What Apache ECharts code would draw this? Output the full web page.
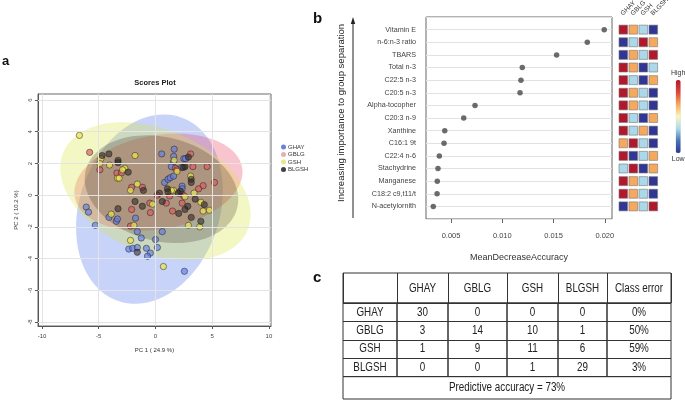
<!DOCTYPE html>
<html><head><meta charset="utf-8">
<script src="https://cdn.jsdelivr.net/npm/echarts@6/dist/echarts.min.js"></script>
<style>html,body{margin:0;padding:0;background:#fff}#c{width:685px;height:402px}</style>
</head><body><div id="c"></div>
<script>
// ---------------- DATA ----------------
const groups = ['GHAY', 'GBLG', 'GSH', 'BLGSH'];
const ghayPts = [[-6.1,-0.75],[-5.9,-1.07],[-5.3,-1.9],[-4.1,-1.4],[-3.45,-1.65],[-3.35,-1.5],[-1.76,-1.45],[-1.6,-2.3],[-1.25,-2.7],[-2.35,-3.4],[-2.0,-3.35],[-1.6,-3.3],[-0.8,-3.35],[-0.45,-3.65],[-0.7,-3.85],[0,-2.8],[0.17,-3.3],[0.6,-2.3],[2.55,-4.8],[0.55,2.6],[1.65,2.9],[1.6,2.45],[1.6,2.1],[2.5,2.3],[2.65,2.3],[1.4,1.8],[2.3,1.75],[0.8,0.8],[1.1,1.0],[1.3,1.1],[1.6,1.2],[2.35,0.57],[2.35,0.4]];
const gblgPts = [[-5.8,2.7],[-4.9,1.6],[-3.4,1.4],[-3.0,1.4],[-2.1,0.5],[-1.15,0.5],[-2.1,-0.9],[-0.5,-0.5],[-0.45,-1.1],[-2.2,-1.95],[3.1,2.6],[3.3,1.8],[4.55,1.8],[1.75,1.7],[1.9,1.6],[5.2,0.8],[4.2,0.6],[3.8,0.4],[1.25,-0.05],[0.15,0],[2.35,0.07],[2.5,-0.05],[0.95,-0.5],[2.35,-0.5],[1.5,-1.0]];
const gshPts = [[-6.7,3.77],[-4.8,2.3],[-4.9,2.0],[-4.05,1.9],[-1.8,2.5],[-2.7,1.7],[-2.9,1.6],[-3.35,1.07],[-3.2,1.07],[-1.6,0.7],[-2.2,0.3],[-0.26,-0.57],[-3.9,-1.2],[-1.9,-1.9],[-2.2,-2.85],[0.7,-4.5],[1.65,2.2],[1.9,1.5],[3.1,1.2],[3.4,0.13],[1.6,0.3],[1.4,0.3],[2.6,-0.1],[4.0,-0.45],[4.75,-0.95],[4.2,-1.0],[2.9,-1.9],[3.9,-2.0]];
const blgshPts = [[-4.7,2.5],[-4.1,2.6],[-3.3,2.2],[-3.3,2.05],[-2.4,1.45],[-1.06,0.3],[-1.8,-0.4],[-3.3,-0.85],[-1.15,-0.7],[-1.6,-3.6],[2.9,2.4],[2.6,1.8],[2.45,1.75],[3.15,1.0],[3.15,0.8],[2.2,0.25],[2.0,0.13],[1.05,0.4],[1.1,0.2],[0.35,0.13],[0.6,-0.4],[2.85,-0.7],[3.5,-0.25],[4.3,-0.6],[2.6,-0.9],[2.05,-1.15],[3.15,-1.4],[4.0,-1.65]];
// 95% confidence ellipses (data units): centre, conjugate semi-axis vectors
const ellipseCenters = [[-0.53,-0.88],[0.26,0.82],[0.0,0.25],[0.53,0.38]];
const ellipseAxisA  = [[2.73,5.80],[7.37,0.93],[8.11,-2.46],[6.67,-1.19]];
const ellipseAxisB  = [[5.86,-1.41],[0.72,-2.92],[2.13,3.59],[1.11,3.18]];
const scoreXTicks = [-10, -5, 0, 5, 10];
const scoreYTicks = [-8, -6, -4, -2, 0, 2, 4, 6];

const features = ['Vitamin E','n-6:n-3 ratio','TBARS','Total n-3','C22:5 n-3','C20:5 n-3','Alpha-tocopher','C20:3 n-9','Xanthine','C16:1 9t','C22:4 n-6','Stachydrine','Manganese','C18:2 c9,t11/t','N-acetylornith'];
const mdaValues = [0.01994,0.01829,0.0153,0.01195,0.01182,0.01173,0.00734,0.00624,0.00439,0.00432,0.00386,0.00373,0.00366,0.00364,0.00327];
const mdaTicks = [0.005, 0.010, 0.015, 0.020];
// relative level per group (1 = low ... 4 = high), columns GHAY, GBLG, GSH, BLGSH
const heatRanks = [[4,3,2,1],[1,2,4,3],[1,3,2,4],[4,3,1,2],[4,2,1,3],[4,3,2,1],[4,3,2,1],[4,2,1,3],[4,2,3,1],[3,4,2,1],[4,1,2,3],[2,4,1,3],[4,3,2,1],[4,3,2,1],[1,3,2,4]];

const tableHeader = ['', 'GHAY', 'GBLG', 'GSH', 'BLGSH', 'Class error'];
const tableRows = ['GHAY', 'GBLG', 'GSH', 'BLGSH'];
const confusion = [[30,0,0,0],[3,14,10,1],[1,9,11,6],[0,0,1,29]];
const classError = ['0%', '50%', '59%', '3%'];
const predictiveAccuracy = '73%';

// ---------------- STYLE / LAYOUT ----------------
const ellipseFills = ['rgba(70,110,235,0.30)','rgba(235,80,110,0.33)','rgba(215,230,60,0.30)','rgba(40,20,10,0.21)'];
const pointFills = ['rgba(100,125,228,0.82)','rgba(222,92,100,0.85)','rgba(236,228,80,0.90)','rgba(45,40,36,0.72)'];
const legendFills = ['#4a5fd6','#e39a9a','#e3e070','#111'];
const SANS = "'Liberation Sans',Arial,sans-serif";
const colEdges = [343, 397, 448, 507, 558, 607, 671];
const headerTop = 273, bodyTop = 303, rowH = 18.4, tableBottom = 399;
const tableFont = 12, tableScaleX = 0.82;

const chart = echarts.init(document.getElementById('c'), null, {renderer: 'canvas'});
const grids = [], xAxes = [], yAxes = [], series = [];

// ---- panel a : scores plot ----
grids.push({left: 38, top: 94, width: 233, height: 232, show: true, borderColor: '#6a6a6a', borderWidth: 1, backgroundColor: 'transparent'});
xAxes.push({gridIndex: 0, type: 'value', min: -10.35, max: 10.18,
  axisLine: {show: true, onZero: false, lineStyle: {color: '#555'}},
  axisTick: {show: true, customValues: scoreXTicks, length: 3, lineStyle: {color: '#555'}},
  axisLabel: {customValues: scoreXTicks, fontSize: 6, color: '#444', margin: 7, fontFamily: SANS},
  splitLine: {show: false},
  name: 'PC 1 ( 24.9 %)', nameLocation: 'middle', nameGap: 21, nameTextStyle: {fontSize: 6, color: '#333', fontFamily: SANS}});
yAxes.push({gridIndex: 0, type: 'value', min: -8.25, max: 6.38,
  axisLine: {show: true, onZero: false, lineStyle: {color: '#555'}},
  axisTick: {show: true, customValues: scoreYTicks, length: 3, lineStyle: {color: '#555'}},
  axisLabel: {customValues: scoreYTicks, fontSize: 6, color: '#444', margin: 5, rotate: 90, fontFamily: SANS},
  splitLine: {show: false},
  name: 'PC 2 ( 10.2 %)', nameLocation: 'middle', nameGap: 19, nameTextStyle: {fontSize: 6, color: '#333', fontFamily: SANS}});

series.push({type: 'scatter', name: 'gridlines', xAxisIndex: 0, yAxisIndex: 0, data: [], z: 0, silent: true,
  markLine: {silent: true, symbol: ['none','none'], animation: false, label: {show: false},
    lineStyle: {color: '#e4e4e4', width: 1, type: 'solid'},
    data: scoreXTicks.map(v => ({xAxis: v})).concat(scoreYTicks.map(v => ({yAxis: v})))}});

series.push({type: 'custom', name: 'ellipses', xAxisIndex: 0, yAxisIndex: 0, z: 1, silent: true,
  data: ellipseCenters.map(c => [c[0], c[1]]),
  renderItem: function (params, api) {
    const i = params.dataIndex;
    const c = ellipseCenters[i], A = ellipseAxisA[i], B = ellipseAxisB[i];
    const pts = [];
    for (let k = 0; k < 120; k++) {
      const t = k / 120 * 2 * Math.PI;
      pts.push(api.coord([c[0] + A[0]*Math.cos(t) + B[0]*Math.sin(t), c[1] + A[1]*Math.cos(t) + B[1]*Math.sin(t)]));
    }
    return {type: 'polygon', shape: {points: pts}, style: {fill: ellipseFills[i], stroke: null}};
  }});

[ghayPts, gblgPts, gshPts, blgshPts].forEach((pts, i) => {
  series.push({type: 'scatter', name: groups[i], xAxisIndex: 0, yAxisIndex: 0, z: 3, data: pts, symbolSize: 6.3,
    itemStyle: {color: pointFills[i], borderColor: '#1a1a1a', borderWidth: 0.6}, emphasis: {disabled: true}});
});

// ---- panel b : importance dot plot ----
grids.push({left: 426, top: 17, width: 186, height: 202, show: true, borderColor: '#666', borderWidth: 1, backgroundColor: 'transparent'});
xAxes.push({gridIndex: 1, type: 'value', min: 0.00256, max: 0.0207,
  axisLine: {show: false, onZero: false},
  axisTick: {show: true, customValues: mdaTicks, length: 4, lineStyle: {color: '#666'}},
  axisLabel: {customValues: mdaTicks, formatter: v => v.toFixed(3), fontSize: 7.5, color: '#444', margin: 13, fontFamily: SANS},
  splitLine: {show: false},
  name: 'MeanDecreaseAccuracy', nameLocation: 'middle', nameGap: 34, nameTextStyle: {fontSize: 9, color: '#333', fontFamily: SANS}});
yAxes.push({gridIndex: 1, type: 'value', min: -1, max: 15, interval: 1, inverse: true,
  axisLine: {show: false, onZero: false}, axisTick: {show: false},
  axisLabel: {formatter: v => (Number.isInteger(v) && features[v]) ? features[v] : '', fontSize: 7.2, color: '#444', margin: 10, fontFamily: SANS},
  splitLine: {show: true, lineStyle: {color: '#e2e2e2', width: 1}}});
series.push({type: 'scatter', name: 'MDA', xAxisIndex: 1, yAxisIndex: 1, z: 3, symbolSize: 5.5,
  data: mdaValues.map((v, i) => [v, i]), itemStyle: {color: '#474747'}, emphasis: {disabled: true}});

// ---- panel b : group level heat cells ----
grids.push({left: 618.3, top: 17, width: 40, height: 202});
xAxes.push({gridIndex: 2, type: 'category', data: groups, position: 'top',
  axisLine: {show: false, onZero: false}, axisTick: {show: false}, axisLabel: {show: false}});
yAxes.push({gridIndex: 2, type: 'value', min: -1, max: 15, inverse: true, show: false});
const heatData = [];
heatRanks.forEach((row, r) => row.forEach((v, c) => heatData.push([c, r, v])));
const heatSeriesIndex = series.length;
series.push({type: 'custom', name: 'levels', xAxisIndex: 2, yAxisIndex: 2, z: 3, silent: true, data: heatData,
  encode: {x: 0, y: 1},
  renderItem: function (params, api) {
    const p = api.coord([api.value(0), api.value(1)]);
    return {type: 'rect', shape: {x: p[0] - 4.3, y: p[1] - 4.5, width: 8.6, height: 9},
      style: {fill: api.visual('color'), stroke: '#777', lineWidth: 0.6}};
  }});
// column headers of the level cells (rotated 45°)
series.push({type: 'custom', name: 'levelHeaders', xAxisIndex: 2, yAxisIndex: 2, z: 3, silent: true, clip: false,
  data: groups.map((g, c) => [c, -1]),
  renderItem: function (params, api) {
    const p = api.coord([api.value(0), api.value(1)]);
    return {type: 'text', x: p[0] - 1.5, y: p[1] - 2.5, rotation: Math.PI / 4,
      style: {text: groups[params.dataIndex], fontSize: 6.5, fontFamily: SANS, fill: '#333', textAlign: 'left', textVerticalAlign: 'middle'}};
  }});

// ---- panel c : confusion table ----
const tableLine = {color: '#333', width: 1};
const condensedText = (x, y, text) => ({type: 'text', x: x, y: y, scaleX: tableScaleX,
  style: {text: text, fontSize: tableFont, fontFamily: SANS, fill: '#222', textAlign: 'center', textVerticalAlign: 'middle'}});
grids.push({left: colEdges[0], top: headerTop, width: colEdges[6] - colEdges[0], height: bodyTop - headerTop, show: true, borderColor: '#333', borderWidth: 1, backgroundColor: 'transparent'});
xAxes.push({gridIndex: 3, type: 'value', show: false});
yAxes.push({gridIndex: 3, type: 'value', show: false});
for (let c = 0; c < 6; c++) {
  const gi = grids.length;
  grids.push({left: colEdges[c], top: bodyTop, width: colEdges[c+1] - colEdges[c], height: rowH * 4, show: true, borderColor: '#333', borderWidth: 1, backgroundColor: 'transparent'});
  xAxes.push({gridIndex: gi, type: 'category', data: [tableHeader[c]], position: 'top',
    axisLine: {show: false, onZero: false},
    axisTick: {show: true, length: bodyTop - headerTop, interval: 0, lineStyle: tableLine},
    axisLabel: {show: false}});
  yAxes.push({gridIndex: gi, type: 'category', data: tableRows, inverse: true,
    axisLine: {show: false, onZero: false}, axisTick: {show: false}, axisLabel: {show: false},
    splitLine: {show: true, interval: 0, lineStyle: tableLine}});
  const cellText = (r) => c === 0 ? tableRows[r] : (c === 5 ? classError[r] : String(confusion[r][c-1]));
  series.push({type: 'custom', name: 'col' + c, xAxisIndex: gi, yAxisIndex: gi, silent: true, clip: false,
    data: tableRows.map((rn, r) => [0, r]),
    renderItem: function (params, api) {
      const p = api.coord([api.value(0), api.value(1)]);
      const children = [condensedText(p[0], p[1], cellText(params.dataIndex))];
      if (params.dataIndex === 0 && tableHeader[c]) {
        children.push(condensedText(p[0], p[1] - rowH / 2 - (bodyTop - headerTop) / 2 + 0.5, tableHeader[c]));
      }
      return {type: 'group', children: children};
    }});
}
{
  const gi = grids.length;
  grids.push({left: colEdges[0], top: bodyTop + rowH * 4, width: colEdges[6] - colEdges[0], height: tableBottom - (bodyTop + rowH * 4), show: true, borderColor: '#333', borderWidth: 1, backgroundColor: 'transparent'});
  xAxes.push({gridIndex: gi, type: 'category', data: ['acc'], show: false});
  yAxes.push({gridIndex: gi, type: 'category', data: ['acc'], show: false});
  series.push({type: 'custom', name: 'acc', xAxisIndex: gi, yAxisIndex: gi, silent: true, clip: false,
    data: [[0, 0]],
    renderItem: function (params, api) {
      const p = api.coord([api.value(0), api.value(1)]);
      return condensedText(p[0], p[1], 'Predictive accuracy = ' + predictiveAccuracy);
    }});
}

const option = {
  backgroundColor: '#fff',
  animation: false,
  textStyle: {fontFamily: SANS},
  title: [
    {text: 'a', left: 2, top: 55, padding: 0, textStyle: {fontSize: 13, fontWeight: 'bold', color: '#111', fontFamily: SANS}},
    {text: 'Scores Plot', left: 155, top: 79, padding: 0, textAlign: 'center', textStyle: {fontSize: 7.5, fontWeight: 'bold', color: '#222', fontFamily: SANS}},
    {text: 'b', left: 313, top: 11, padding: 0, textStyle: {fontSize: 15, fontWeight: 'bold', color: '#111', fontFamily: SANS}},
    {text: 'c', left: 313, top: 270, padding: 0, textStyle: {fontSize: 15, fontWeight: 'bold', color: '#111', fontFamily: SANS}}
  ],
  legend: {orient: 'vertical', left: 281, top: 144, padding: 0, itemWidth: 5, itemHeight: 5, itemGap: 1.5, icon: 'circle',
    selectedMode: false,
    textStyle: {fontSize: 6, color: '#333', padding: [0, 0, 0, -3], fontFamily: SANS},
    data: groups.map((g, i) => ({name: g, itemStyle: {color: legendFills[i], borderWidth: 0}}))},
  visualMap: {type: 'continuous', seriesIndex: heatSeriesIndex, dimension: 2, min: 1, max: 4, orient: 'vertical',
    left: 671, top: 70, itemWidth: 5, itemHeight: 73, text: ['High', 'Low'], textGap: 3, calculable: false, padding: 0,
    textStyle: {fontSize: 7, color: '#333', fontFamily: SANS},
    inRange: {color: ['#313695', '#4575b4', '#abd9e9', '#f7f7c0', '#f6a95c', '#e0453a', '#b2182b']}},
  grid: grids, xAxis: xAxes, yAxis: yAxes, series: series,
  graphic: [
    {type: 'text', x: 341, y: 113, rotation: Math.PI / 2, style: {text: 'Increasing importance to group separation', fontSize: 9.5, fontFamily: SANS, fill: '#222', textAlign: 'center', textVerticalAlign: 'middle'}},
    {type: 'line', shape: {x1: 353, y1: 218, x2: 353, y2: 22}, style: {stroke: '#222', lineWidth: 1}},
    {type: 'polygon', shape: {points: [[353, 17], [350.8, 24], [355.2, 24]]}, style: {fill: '#222'}}
  ]
};
chart.setOption(option);
</script></body></html>
